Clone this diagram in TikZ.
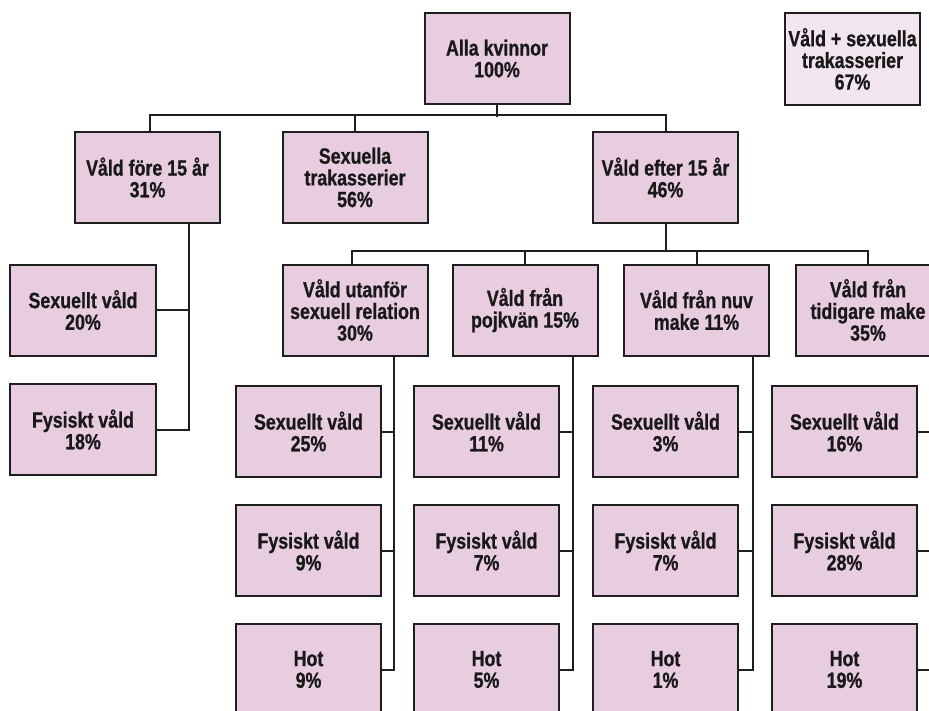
\documentclass[tikz,border=0pt]{standalone}
\usepackage{fontspec}
\setmainfont{Liberation Sans}[FakeStretch=0.81]
\newfontfamily\boxfont{Liberation Sans}[FakeStretch=0.81, BoldFeatures={FakeBold=0.8}]
\definecolor{boxfill}{HTML}{E8CCE0}
\definecolor{lightfill}{HTML}{F3E5EF}
\definecolor{linec}{HTML}{1E1E1E}
\tikzset{
  box/.style={draw=linec, line width=2pt, fill=boxfill, rectangle,
    minimum width=145pt, minimum height=91pt, inner sep=0pt, align=center,
    text=black!90,
    font=\boxfont\fontsize{22}{21.7}\selectfont\bfseries},
  lightbox/.style={box, fill=lightfill, minimum width=135pt, minimum height=92pt},
  conn/.style={draw=linec, line width=2pt}
}
\begin{document}
\begin{tikzpicture}[x=1pt,y=-1pt]
\useasboundingbox (0,0) rectangle (929,710);
\clip (0,0) rectangle (929,710);
% top
\node[box] (alla) at (497,58.5) {Alla kvinnor\\100\%};
\node[lightbox] (vsx) at (852.5,59) {Våld + sexuella\\trakasserier\\67\%};
% row 2
\node[box] (fore) at (147.5,177.5) {Våld före 15 år\\31\%};
\node[box] (sext) at (355,177.5) {Sexuella\\trakasserier\\56\%};
\node[box] (efter) at (665.5,177.5) {Våld efter 15 år\\46\%};
% row 3 left
\node[box, minimum width=146pt] (sv20) at (83,310) {Sexuellt våld\\20\%};
\node[box, minimum width=146pt] (fv18) at (83,429.5) {Fysiskt våld\\18\%};
% row 3 right
\node[box] (utan) at (355,310) {Våld utanför\\sexuell relation\\30\%};
\node[box] (pojk) at (525,310) {Våld från\\pojkvän 15\%};
\node[box] (nuv) at (696.5,310) {Våld från nuv\\make 11\%};
\node[box] (tid) at (868,310) {Våld från\\tidigare make\\35\%};
% children
\node[box] (c11) at (308.5,431.5) {Sexuellt våld\\25\%};
\node[box] (c12) at (308.5,550.5) {Fysiskt våld\\9\%};
\node[box] (c13) at (308.5,669.5) {Hot\\9\%};
\node[box] (c21) at (486.5,431.5) {Sexuellt våld\\11\%};
\node[box] (c22) at (486.5,550.5) {Fysiskt våld\\7\%};
\node[box] (c23) at (486.5,669.5) {Hot\\5\%};
\node[box] (c31) at (665.5,431.5) {Sexuellt våld\\3\%};
\node[box] (c32) at (665.5,550.5) {Fysiskt våld\\7\%};
\node[box] (c33) at (665.5,669.5) {Hot\\1\%};
\node[box] (c41) at (844.5,431.5) {Sexuellt våld\\16\%};
\node[box] (c42) at (844.5,550.5) {Fysiskt våld\\28\%};
\node[box] (c43) at (844.5,669.5) {Hot\\19\%};
% connectors level 1
\draw[conn] (alla.south) -- ++(0,11.5);
\draw[conn] (fore.north) ++(2.5,0) -- ++(0,-16) -| (efter.north);
\draw[conn] (sext.north) -- ++(0,-16);
% before 15
\draw[conn] (fore.south) ++(41.5,0) |- (fv18.east);
\draw[conn] (sv20.east) -- ++(33,0);
% after 15
\draw[conn] (efter.south) -- ++(0,28);
\draw[conn] (utan.north) ++(-3,0) -- ++(0,-13) -| (tid.north);
\draw[conn] (pojk.north) -- ++(0,-13);
\draw[conn] (nuv.north) -- ++(0,-13);
% children connectors
\draw[conn] (utan.south) ++(39,0) |- (c13.east);
\draw[conn] (c11.east) -- ++(13,0);
\draw[conn] (c12.east) -- ++(13,0);
\draw[conn] (pojk.south) ++(48,0) |- (c23.east);
\draw[conn] (c21.east) -- ++(14,0);
\draw[conn] (c22.east) -- ++(14,0);
\draw[conn] (nuv.south) ++(56.5,0) |- (c33.east);
\draw[conn] (c31.east) -- ++(15,0);
\draw[conn] (c32.east) -- ++(15,0);
\draw[conn] (tid.south) ++(65,0) |- (c43.east);
\draw[conn] (c41.east) -- ++(16,0);
\draw[conn] (c42.east) -- ++(16,0);
\end{tikzpicture}
\end{document}
